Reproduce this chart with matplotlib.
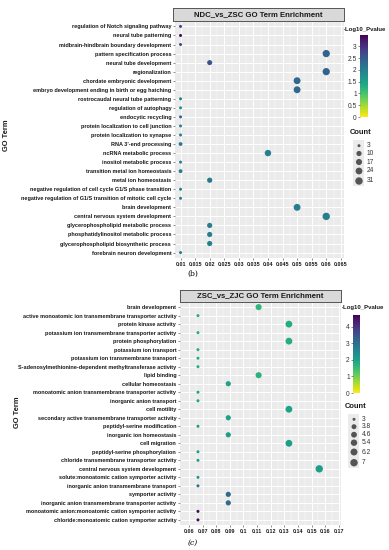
import numpy as np
import matplotlib
matplotlib.use("Agg")
import matplotlib.pyplot as plt
from matplotlib.patches import Rectangle
from matplotlib.ticker import FixedLocator, FuncFormatter
import matplotlib.cm as cm
from matplotlib.colors import Normalize

plt.rcParams['font.family'] = ['Liberation Sans', 'DejaVu Sans']

# ---- data, panel (b) ----
terms_b = [
    "regulation of Notch signaling pathway",
    "neural tube patterning",
    "midbrain-hindbrain boundary development",
    "pattern specification process",
    "neural tube development",
    "regionalization",
    "chordate embryonic development",
    "embryo development ending in birth or egg hatching",
    "rostrocaudal neural tube patterning",
    "regulation of autophagy",
    "endocytic recycling",
    "protein localization to cell junction",
    "protein localization to synapse",
    "RNA 3'-end processing",
    "ncRNA metabolic process",
    "inositol metabolic process",
    "transition metal ion homeostasis",
    "metal ion homeostasis",
    "negative regulation of cell cycle G1/S phase transition",
    "negative regulation of G1/S transition of mitotic cell cycle",
    "brain development",
    "central nervous system development",
    "glycerophospholipid metabolic process",
    "phosphatidylinositol metabolic process",
    "glycerophospholipid biosynthetic process",
    "forebrain neuron development",
]
ratio_b = [0.01, 0.01, 0.01, 0.06, 0.02, 0.06, 0.05, 0.05, 0.01, 0.01, 0.01, 0.01, 0.01,
           0.01, 0.04, 0.01, 0.01, 0.02, 0.01, 0.01, 0.05, 0.06, 0.02, 0.02, 0.02, 0.01]
count_b = [3, 3, 3, 29, 9, 29, 25, 25, 3, 3, 3, 3, 3,
           4, 20, 3, 4, 10, 3, 3, 25, 31, 10, 10, 10, 3]
logp_b = [2.7, 3.4, 2.7, 2.4, 2.6, 2.4, 2.3, 2.3, 2.0, 1.7, 2.4, 2.0, 2.0,
          2.1, 2.0, 2.0, 2.1, 2.1, 2.0, 2.0, 2.0, 2.0, 2.0, 2.0, 2.0, 2.0]
xticks_b = [0.01, 0.015, 0.02, 0.025, 0.03, 0.035, 0.04, 0.045, 0.05, 0.055, 0.06, 0.065]
cbar_ticks_b = [0, 0.5, 1, 1.5, 2, 2.5, 3]
size_breaks_b = [3, 10, 17, 24, 31]

# ---- data, panel (c) ----
terms_c = [
    "brain development",
    "active monoatomic ion transmembrane transporter activity",
    "protein kinase activity",
    "potassium ion transmembrane transporter activity",
    "protein phosphorylation",
    "potassium ion transport",
    "potassium ion transmembrane transport",
    "S-adenosylmethionine-dependent methyltransferase activity",
    "lipid binding",
    "cellular homeostasis",
    "monoatomic anion transmembrane transporter activity",
    "inorganic anion transport",
    "cell motility",
    "secondary active transmembrane transporter activity",
    "peptidyl-serine modification",
    "inorganic ion homeostasis",
    "cell migration",
    "peptidyl-serine phosphorylation",
    "chloride transmembrane transporter activity",
    "central nervous system development",
    "solute:monoatomic cation symporter activity",
    "inorganic anion transmembrane transport",
    "symporter activity",
    "inorganic anion transmembrane transporter activity",
    "monoatomic anion:monoatomic cation symporter activity",
    "chloride:monoatomic cation symporter activity",
]
count_c = [5, 3, 6, 3, 6, 3, 3, 3, 5, 4, 3, 3, 6, 4, 3, 4, 6, 3, 3, 7, 3, 3, 4, 4, 3, 3]
ratio_c = [c / 45 for c in count_c]
logp_c = [1.6, 1.8, 1.8, 1.8, 1.8, 1.8, 1.8, 1.8, 1.7, 2.0, 2.0, 2.0, 2.0,
          2.0, 2.1, 2.1, 2.1, 2.1, 2.1, 2.1, 2.2, 3.0, 3.1, 3.1, 4.6, 4.6]
xticks_c = [0.06, 0.07, 0.08, 0.09, 0.1, 0.11, 0.12, 0.13, 0.14, 0.15, 0.16, 0.17]
cbar_ticks_c = [0, 1, 2, 3, 4]
size_breaks_c = [3, 3.8, 4.6, 5.4, 6.2, 7]

W, H = 389, 550
fig = plt.figure(figsize=(W / 100, H / 100), dpi=100)


def rect(l, t, r, b):
    return [l / W, 1 - b / H, (r - l) / W, (b - t) / H]


def size_pt(c, cmin, cmax):
    # ggplot-like area scale: diameter grows with sqrt of rescaled value
    d_px = 3.0 + 4.4 * np.sqrt((np.asarray(c, float) - cmin) / (cmax - cmin))
    return (d_px * 0.72) ** 2


def fmt(v, pos=None):
    return "%g" % v


def panel(terms, xs, counts, logp, xticks, xlim, cticks, vmax, breaks, title, tag,
          box, strip, cbar_box, cbar_title_xy, count_xy, key_x, key_ys, key_lab_x,
          ylab_xy, tag_xy):
    ax = fig.add_axes(rect(*box))
    ax.set_facecolor("#ebebeb")
    n = len(terms)
    ypos = np.arange(n)
    norm = Normalize(0, vmax)
    cmap = plt.get_cmap("viridis_r")
    cmin, cmax = min(breaks), max(breaks)
    # grid
    minor = [(a + b) / 2 for a, b in zip(xticks[:-1], xticks[1:])]
    for m in minor:
        ax.axvline(m, color="white", lw=0.35, zorder=0)
    for t in xticks:
        ax.axvline(t, color="white", lw=0.7, zorder=0)
    for y in ypos:
        ax.axhline(y, color="white", lw=0.7, zorder=0)
    ax.scatter(xs, ypos, s=size_pt(counts, cmin, cmax), c=logp, cmap=cmap, norm=norm,
               edgecolors="none", zorder=3)
    ax.set_xlim(*xlim)
    ax.set_ylim(n - 0.4, -0.6)
    ax.set_yticks(ypos)
    ax.set_yticklabels(terms, fontsize=4.0, fontweight="bold", color="#1a1a1a")
    ax.xaxis.set_major_locator(FixedLocator(xticks))
    ax.xaxis.set_major_formatter(FuncFormatter(fmt))
    for lab in ax.get_xticklabels():
        lab.set_fontsize(3.9)
        lab.set_fontweight("bold")
        lab.set_color("#1a1a1a")
    ax.tick_params(length=1.5, width=0.4, color="#333333", pad=1.2)
    for s in ax.spines.values():
        s.set_visible(False)

    # facet strip
    sax = fig.add_axes(rect(*strip))
    sax.set_facecolor("#d9d9d9")
    sax.set_xticks([])
    sax.set_yticks([])
    for s in sax.spines.values():
        s.set_color("#555555")
        s.set_linewidth(0.7)
    sax.text(0.5, 0.5, title, ha="center", va="center", fontsize=5.6,
             fontweight="bold", color="#1a1a1a", transform=sax.transAxes)

    # colour bar
    cax = fig.add_axes(rect(*cbar_box))
    sm = cm.ScalarMappable(norm=norm, cmap=cmap)
    cb = fig.colorbar(sm, cax=cax, ticks=cticks)
    cb.outline.set_visible(False)
    cax.yaxis.tick_left()
    cax.yaxis.set_major_formatter(FuncFormatter(fmt))
    cax.tick_params(labelsize=4.8, length=1.5, width=0.4, pad=0.8, colors="#333333")
    fig.text(cbar_title_xy[0] / W, 1 - cbar_title_xy[1] / H, "-Log10_Pvalue",
             fontsize=4.3, fontweight="bold", ha="left", va="center", color="#1a1a1a")

    # size legend, in a figure-wide pixel axes
    lax = fig.add_axes([0, 0, 1, 1], facecolor="none")
    lax.set_xlim(0, W)
    lax.set_ylim(H, 0)
    lax.axis("off")
    lax.text(count_xy[0], count_xy[1], "Count", fontsize=5.4,
             fontweight="bold", ha="left", va="center", color="#1a1a1a")
    step = (key_ys[-1] - key_ys[0]) / (len(breaks) - 1)
    lax.add_patch(Rectangle((key_x - 5.5, key_ys[0] - step * 0.6), 11,
                            key_ys[-1] - key_ys[0] + step * 1.2,
                            facecolor="#ebebeb", edgecolor="none", zorder=1))
    lax.scatter([key_x] * len(breaks), key_ys, s=size_pt(breaks, cmin, cmax),
                color="#555555", edgecolors="none", zorder=2)
    for b, yk in zip(breaks, key_ys):
        lax.text(key_lab_x, yk, fmt(b), fontsize=4.8, ha="left", va="center",
                 color="#333333")
    lax.text(ylab_xy[0], ylab_xy[1], "GO Term", rotation=90, fontsize=5.4,
             fontweight="bold", ha="center", va="center", color="#1a1a1a")
    lax.text(tag_xy[0], tag_xy[1], tag, fontsize=5.5, ha="center", va="center",
             family="DejaVu Serif", style="italic" if tag == "(c)" else "normal")


panel(terms_b, ratio_b, count_b, logp_b, xticks_b, (0.0081, 0.0661), cbar_ticks_b, 3.48,
      size_breaks_b, "NDC_vs_ZSC GO Term Enrichment", "(b)",
      box=(175, 21, 344, 258), strip=(173, 8, 344, 20.5), cbar_box=(360, 35, 368, 117),
      cbar_title_xy=(344, 29), count_xy=(350, 132), key_x=359,
      key_ys=[145.7, 153.5, 162, 171, 181], key_lab_x=367,
      ylab_xy=(7, 135), tag_xy=(193, 274))

panel(terms_c, ratio_c, count_c, logp_c, xticks_c, (0.0535, 0.1715), cbar_ticks_c, 4.7,
      size_breaks_c, "ZSC_vs_ZJC GO Term Enrichment", "(c)",
      box=(180, 302, 341, 525), strip=(180, 290, 341, 301.5), cbar_box=(353, 315, 360, 393),
      cbar_title_xy=(342, 307), count_xy=(345, 407), key_x=354,
      key_ys=[419.3, 426.7, 434.7, 442.7, 452, 462.7], key_lab_x=362,
      ylab_xy=(18, 412), tag_xy=(193, 543))

fig.savefig("out.png", dpi=100, facecolor="white")
